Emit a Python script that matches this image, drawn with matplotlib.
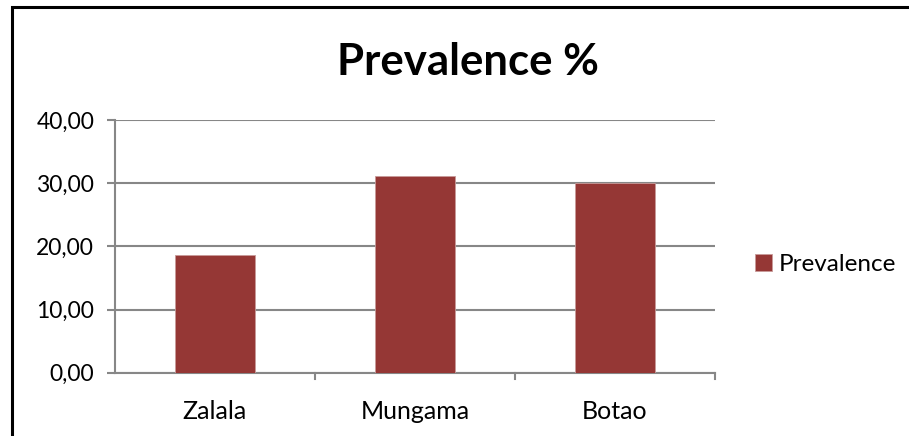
import matplotlib.pyplot as plt
from matplotlib.lines import Line2D
from matplotlib.ticker import FuncFormatter, MultipleLocator

sites = ["Zalala", "Mungama", "Botao"]
prevalence = [18.67, 31.12, 29.97]

BAR_COLOR = "#953735"
GRID_COLOR = "#878787"
plt.rcParams["font.family"] = ["Lato", "DejaVu Sans"]

fig = plt.figure(figsize=(9.09, 4.36), dpi=100)
fig.patch.set_facecolor("white")

# chart frame: only top and left edges fall inside the canvas
fx, fy = 12 / 909, 1 - 7 / 436
fig.lines.append(Line2D([fx, fx, 1.0], [0.0, fy, fy], transform=fig.transFigure,
                        color="black", linewidth=2.2, solid_joinstyle="miter"))

ax = fig.add_axes([115 / 909, 63.3 / 436, 600 / 909, 252.7 / 436])
x = range(len(sites))
ax.bar(x, prevalence, width=0.4, color=BAR_COLOR, edgecolor="#c89a99",
       linewidth=0.6, zorder=3, label="Prevalence")

ax.set_xlim(-0.5, len(sites) - 0.5)
ax.set_ylim(0, 40)
ax.yaxis.set_major_locator(MultipleLocator(10))
ax.yaxis.set_major_formatter(FuncFormatter(lambda v, _: f"{v:.2f}".replace(".", ",")))
ax.set_xticks(list(x))
ax.set_xticklabels(sites)
ax.grid(axis="y", color=GRID_COLOR, linewidth=1.5, zorder=1)
ax.set_axisbelow(True)

for side in ("top", "right"):
    ax.spines[side].set_visible(False)
for side in ("left", "bottom"):
    ax.spines[side].set_color(GRID_COLOR)
    ax.spines[side].set_linewidth(1.5)

ax.tick_params(axis="y", length=6, width=1.5, color=GRID_COLOR, labelsize=16.5, pad=9)
ax.tick_params(axis="x", length=0, labelsize=18, pad=20)
# x ticks sit on category boundaries
for b in [0.5, 1.5, 2.5]:
    ax.plot([b, b], [0, -0.95], color=GRID_COLOR, linewidth=1.5, clip_on=False, zorder=4)

fig.text(468 / 909, 1 - 62 / 436, "Prevalence %", ha="center", va="center",
         fontsize=31.5, fontweight="bold")

ax.legend(loc="center left", bbox_to_anchor=(1.03, 0.43), frameon=False,
          fontsize=17.5, handlelength=0.7, handleheight=0.7, handletextpad=0.3)

fig.savefig("out.png", dpi=100)
